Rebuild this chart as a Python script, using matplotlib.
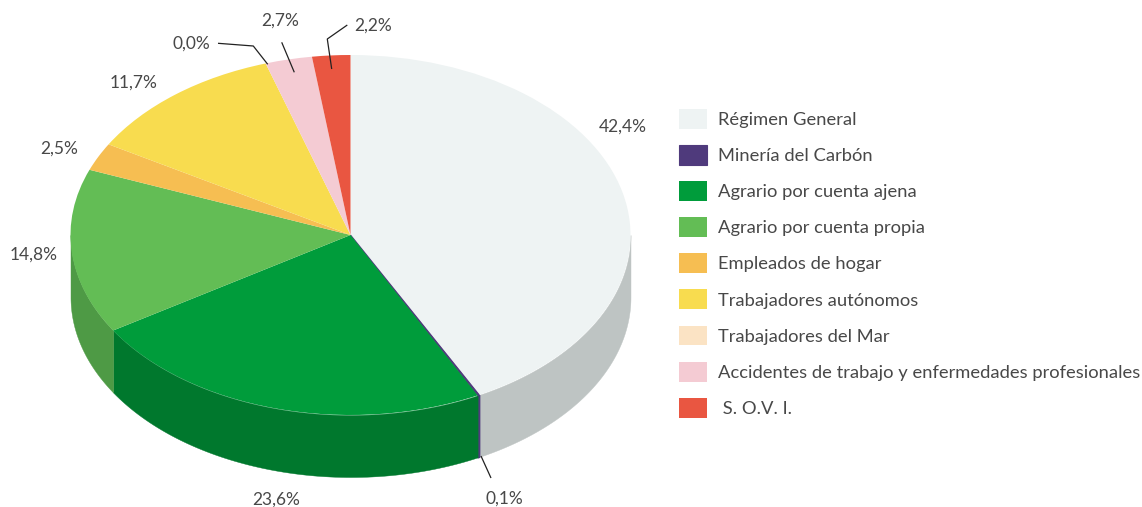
import numpy as np
import matplotlib
matplotlib.use("Agg")
import matplotlib.pyplot as plt

plt.rcParams["font.family"] = ["Lato", "Open Sans", "DejaVu Sans"]
plt.rcParams["font.weight"] = "normal"

categories = ["Régimen General", "Minería del Carbón", "Agrario por cuenta ajena",
              "Agrario por cuenta propia", "Empleados de hogar", "Trabajadores autónomos",
              "Trabajadores del Mar", "Accidentes de trabajo y enfermedades profesionales",
              " S. O.V. I."]
values = [42.4, 0.1, 23.6, 14.8, 2.5, 11.7, 0.0, 2.7, 2.2]
value_labels = ["42,4%", "0,1%", "23,6%", "14,8%", "2,5%", "11,7%", "0,0%", "2,7%", "2,2%"]
colors = ["#EEF3F3", "#4F3A7C", "#009C3B", "#63BD55", "#F6BE52",
          "#F8DC4F", "#FBE3C4", "#F4CBD3", "#E95641"]
side_colors = ["#BEC4C3", "#4F3A7C", "#00782D", "#4E9A45", "#C89A40",
               "#C9B23F", "#CDB9A0", "#C6A5AB", "#BC4534"]

W, H = 1142, 507
CX, CY, RX, RY, DEPTH = 350.5, 235, 280, 180, 62
TEXT = "#484848"

# label centres and leader lines, in picture pixels
label_pos = [(623, 127), (504, 499), (276, 500), (34, 255), (59, 149),
             (134, 83), (191, 44), (280, 21), (373, 26)]
leaders = [[(481, 456), (491, 478)],
           [(218, 43.3), (253.3, 46), (267.7, 64.3)],
           [(281.7, 42.3), (294.3, 72.3)],
           [(347.3, 25), (327.3, 39), (331.7, 69)]]


def to_data(px, py):
    return (px - CX) / RX, (CY - py) / RY


fig = plt.figure(figsize=(W / 100, H / 100), dpi=100)
ax = fig.add_axes([0, 0, 1, 1])

wedges, _ = ax.pie(values, colors=colors, startangle=90, counterclock=False, radius=1,
                   wedgeprops={"linewidth": 0}, labels=None)
wedges[1].set_edgecolor(colors[1])
wedges[1].set_linewidth(0.8)
ax.set_aspect("auto")
ax.set_xlim(to_data(0, 0)[0], to_data(W, 0)[0])
ax.set_ylim(to_data(0, H)[1], to_data(0, 0)[1])
ax.axis("off")

# side wall of the disc: only the part between 90 and 270 deg (clockwise from top) shows
depth = DEPTH / RY
bounds = np.concatenate([[0], np.cumsum(values)]) / sum(values) * 360
for i in range(len(values)):
    a, b = max(bounds[i], 90), min(bounds[i + 1], 270)
    if b <= a:
        continue
    t = np.radians(np.linspace(a, b, 80))
    x, y = np.sin(t), np.cos(t)
    order = np.argsort(x)
    lw = 1.0 if values[i] < 1 else 0.3
    ax.fill_between(x[order], y[order], y[order] - depth, facecolor=side_colors[i],
                    edgecolor=side_colors[i], linewidth=lw, zorder=0.5)

for txt, (px, py) in zip(value_labels, label_pos):
    ax.text(*to_data(px, py), txt, ha="center", va="center", fontsize=12.5, color=TEXT)

for pts in leaders:
    xy = np.array([to_data(*p) for p in pts])
    ax.plot(xy[:, 0], xy[:, 1], color="#222222", lw=0.9, solid_capstyle="butt", zorder=3)

fs = 13.2
px2pt = 0.72
leg = ax.legend(wedges, categories, loc="upper left", bbox_to_anchor=(679 / W, 1 - 109 / H),
                bbox_transform=fig.transFigure, frameon=False, fontsize=fs,
                borderpad=0, borderaxespad=0,
                handlelength=28 * px2pt / fs, handleheight=1.3,
                handletextpad=11 * px2pt / fs, labelspacing=16.1 * px2pt / fs,
                labelcolor=TEXT)

fig.savefig("out.png", dpi=100)
